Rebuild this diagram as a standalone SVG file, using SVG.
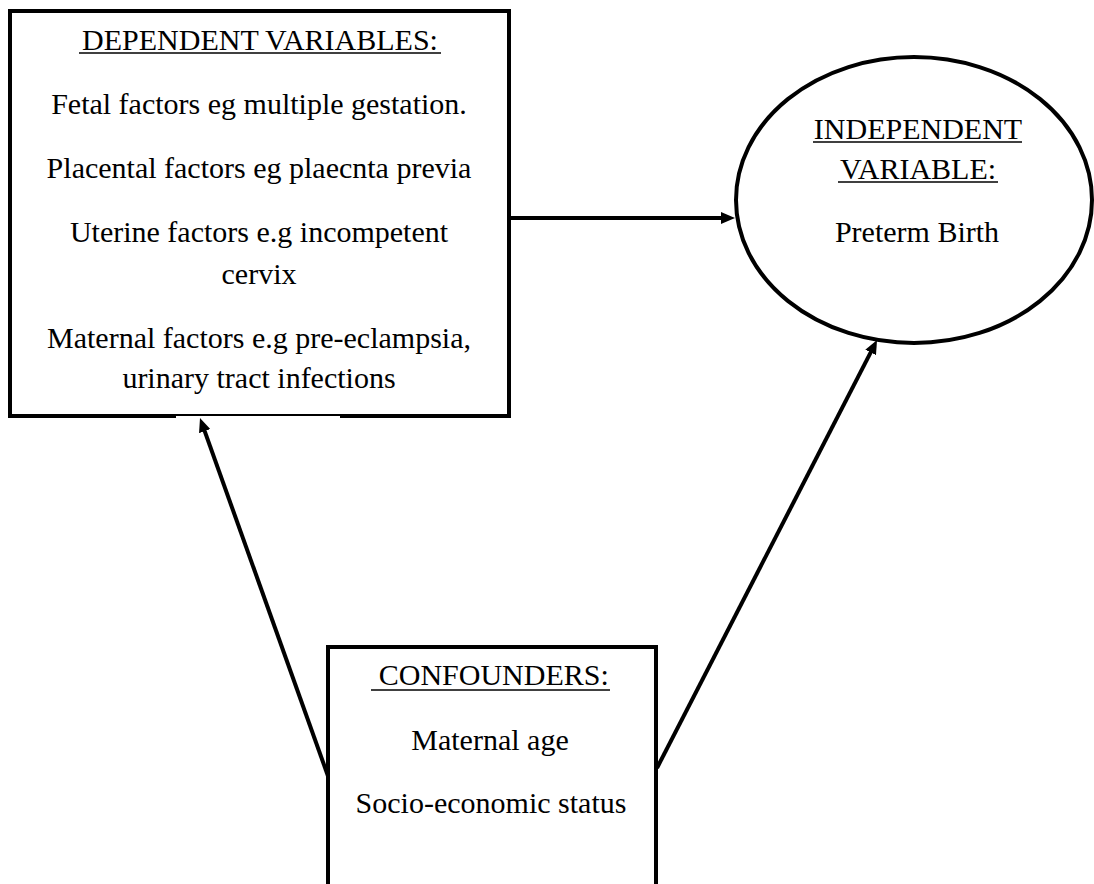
<svg xmlns="http://www.w3.org/2000/svg" width="1094" height="884" viewBox="0 0 1094 884">
<style>
.t{font-family:"Liberation Serif","Times New Roman",serif;font-size:30px;fill:#000;text-anchor:middle}
.box{fill:#fff;stroke:#000;stroke-width:4;stroke-linejoin:miter}
.ul{stroke:#000;stroke-width:1.6}
.con{stroke:#000;stroke-width:4;fill:none}
</style>
<defs>
<marker id="ah" markerUnits="userSpaceOnUse" markerWidth="14" markerHeight="12" viewBox="0 0 14 12" refX="8" refY="6" orient="auto">
<path d="M0,0 L14,6 L0,12 z" fill="#000"/>
</marker>
</defs>
<rect width="1094" height="884" fill="#fff"/>
<g id="dependent">
<path class="box" d="M340,416 L509,416 L509,11 L10,11 L10,416 L176,416"/>
<line x1="176" y1="415" x2="340" y2="415" stroke="#000" stroke-width="2"/>
<text class="t" x="260" y="50">DEPENDENT VARIABLES:</text>
<line class="ul" x1="79" y1="53" x2="441" y2="53"/>
<text class="t" x="259" y="114">Fetal factors eg multiple gestation.</text>
<text class="t" x="259" y="178">Placental factors eg plaecnta previa</text>
<text class="t" x="259" y="242">Uterine factors e.g incompetent</text>
<text class="t" x="259" y="284">cervix</text>
<text class="t" x="259" y="348">Maternal factors e.g pre-eclampsia,</text>
<text class="t" x="259" y="388">urinary tract infections</text>
</g>
<g id="independent">
<ellipse cx="914" cy="200" rx="178" ry="143" fill="#fff" stroke="#000" stroke-width="4"/>
<text class="t" x="918" y="139">INDEPENDENT</text>
<line class="ul" x1="813" y1="142" x2="1022" y2="142"/>
<text class="t" x="918" y="179">VARIABLE:</text>
<line class="ul" x1="838" y1="182" x2="998" y2="182"/>
<text class="t" x="917" y="242">Preterm Birth</text>
</g>
<g id="confounders">
<path class="box" d="M328,886 L328,647 L656,647 L656,886"/>
<text class="t" x="490" y="685" xml:space="preserve"> CONFOUNDERS:</text>
<line class="ul" x1="371" y1="690" x2="610" y2="690"/>
<text class="t" x="490" y="750">Maternal age</text>
<text class="t" x="491" y="813">Socio-economic status</text>
</g>
<g id="connectors">
<line class="con" x1="509" y1="218" x2="729" y2="218" marker-end="url(#ah)"/>
<line class="con" x1="328" y1="776" x2="202" y2="423.6" marker-end="url(#ah)"/>
<line class="con" x1="657" y1="768" x2="874.3" y2="345.3" marker-end="url(#ah)"/>
</g>
</svg>
